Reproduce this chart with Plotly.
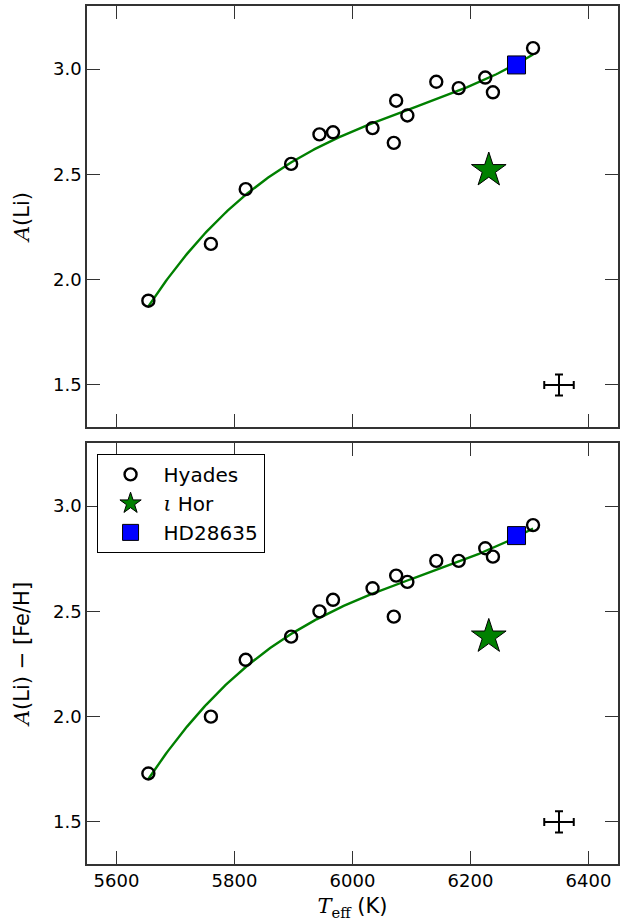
import numpy as np
import plotly.graph_objects as go
from plotly.subplots import make_subplots

# Hyades cluster members
hyades_teff = [5654, 5760, 5819, 5896, 5944, 5967, 6034, 6070, 6074, 6093,
               6142, 6180, 6225, 6238, 6306]
hyades_ali = [1.90, 2.17, 2.43, 2.55, 2.69, 2.70, 2.72, 2.65, 2.85, 2.78,
              2.94, 2.91, 2.96, 2.89, 3.10]
hyades_ali_feh = [1.73, 2.00, 2.27, 2.38, 2.50, 2.555, 2.61, 2.475, 2.67, 2.64,
                  2.74, 2.74, 2.80, 2.76, 2.91]

# iota Hor
ihor_teff = [6231]
ihor_ali = [2.52]
ihor_ali_feh = [2.38]

# HD28635
hd_teff = [6278]
hd_ali = [3.02]
hd_ali_feh = [2.86]

# Typical uncertainty
err_teff = [6350]
err_y = [1.50]
err_dteff = [25]
err_dy = [0.05]

GREEN = "#008000"
BLUE = "#0000ff"
FONT = "DejaVu Sans"

fig = make_subplots(rows=2, cols=1, shared_xaxes=False, vertical_spacing=0.0186)

tfit = np.linspace(min(hyades_teff), max(hyades_teff), 200)

panels = [(1, hyades_ali, ihor_ali, hd_ali),
          (2, hyades_ali_feh, ihor_ali_feh, hd_ali_feh)]

for row, hy, ih, hd in panels:
    # cubic fit to the Hyades sequence
    coef = np.polyfit(hyades_teff, hy, 3)
    fig.add_trace(go.Scatter(x=tfit, y=np.polyval(coef, tfit), mode="lines",
                             line=dict(color=GREEN, width=2.4),
                             showlegend=False, hoverinfo="skip"), row=row, col=1)
    fig.add_trace(go.Scatter(x=hyades_teff, y=hy, mode="markers", name="Hyades",
                             marker=dict(symbol="circle-open", size=12,
                                         color="black", line=dict(width=2.4)),
                             showlegend=(row == 2)), row=row, col=1)
    fig.add_trace(go.Scatter(x=ihor_teff, y=ih, mode="markers",
                             name="<span style='font-family:DejaVu Serif'><i>ι</i></span> Hor",
                             marker=dict(symbol="star", size=26, color=GREEN,
                                         line=dict(width=1, color="black")),
                             showlegend=(row == 2)), row=row, col=1)
    fig.add_trace(go.Scatter(x=hd_teff, y=hd, mode="markers", name="HD28635",
                             marker=dict(symbol="square", size=18, color=BLUE,
                                         line=dict(width=1, color="black")),
                             showlegend=(row == 2)), row=row, col=1)
    fig.add_trace(go.Scatter(x=err_teff, y=err_y, mode="markers",
                             marker=dict(size=1, color="black", opacity=0),
                             error_x=dict(type="data", array=err_dteff, color="black",
                                          thickness=2, width=4),
                             error_y=dict(type="data", array=err_dy, color="black",
                                          thickness=2, width=4),
                             showlegend=False, hoverinfo="skip"), row=row, col=1)

axis_common = dict(showline=True, linecolor="#333333", linewidth=1.6, mirror="ticks",
                   ticks="inside", ticklen=13, tickwidth=1.2, tickcolor="#333333",
                   showgrid=False, zeroline=False,
                   tickfont=dict(family=FONT, size=18, color="black"))

for r in (1, 2):
    fig.update_xaxes(range=[5550, 6450], tickvals=[5600, 5800, 6000, 6200, 6400],
                     row=r, col=1, **axis_common)
    fig.update_yaxes(range=[1.3, 3.3], tickvals=[1.5, 2.0, 2.5, 3.0],
                     tickformat=".1f", row=r, col=1, **axis_common)

fig.update_xaxes(showticklabels=False, row=1, col=1)
fig.update_xaxes(title=dict(text="<span style='font-family:DejaVu Serif'><i>T</i><sub>eff</sub></span> (K)",
                            font=dict(family=FONT, size=21, color="black"), standoff=8),
                 row=2, col=1)
fig.update_yaxes(title=dict(text="<span style='font-family:DejaVu Serif'><i>A</i></span>(Li)",
                            font=dict(family=FONT, size=21, color="black"), standoff=18),
                 row=1, col=1)
fig.update_yaxes(title=dict(text="<span style='font-family:DejaVu Serif'><i>A</i></span>(Li) − [Fe/H]",
                            font=dict(family=FONT, size=21, color="black"), standoff=18),
                 row=2, col=1)

fig.update_layout(
    width=633, height=922,
    margin=dict(l=87, r=15, t=4, b=58),
    paper_bgcolor="white", plot_bgcolor="white",
    font=dict(family=FONT, size=18, color="black"),
    legend=dict(x=0.018, y=0.478, xanchor="left", yanchor="top",
                bordercolor="black", borderwidth=1, bgcolor="white",
                font=dict(family=FONT, size=20, color="black"),
                tracegroupgap=0, itemwidth=56),
)
fig.update_layout(yaxis=dict(domain=[0.5093, 1.0]), yaxis2=dict(domain=[0.0, 0.4907]))

fig.write_html("out.html")
